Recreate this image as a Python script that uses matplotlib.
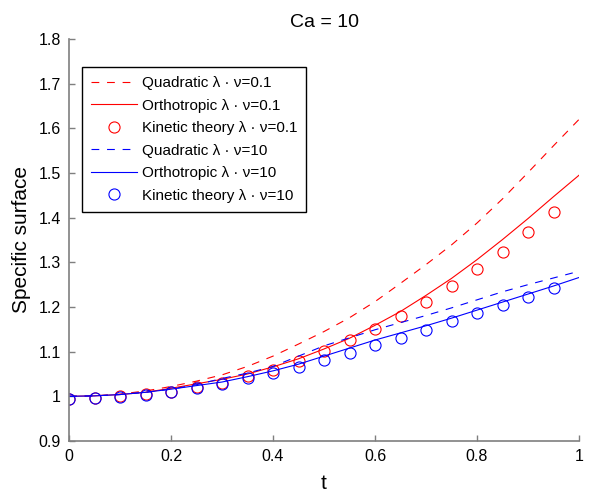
import matplotlib
matplotlib.use('Agg')
import matplotlib.pyplot as plt

plt.rcParams['font.family'] = ['Liberation Sans', 'DejaVu Sans']

# time samples for the model curves
t_line = [0.0, 0.05, 0.1, 0.15, 0.2, 0.25, 0.3, 0.35, 0.4, 0.45, 0.5,
          0.55, 0.6, 0.65, 0.7, 0.75, 0.8, 0.85, 0.9, 0.95, 1.0]

quad_01 = [1.000, 1.001, 1.005, 1.012, 1.022, 1.034, 1.048, 1.067, 1.090, 1.117, 1.145,
           1.176, 1.212, 1.253, 1.295, 1.339, 1.388, 1.442, 1.501, 1.561, 1.620]
ortho_01 = [1.000, 1.001, 1.004, 1.009, 1.018, 1.028, 1.038, 1.050, 1.066, 1.084, 1.106,
            1.130, 1.159, 1.190, 1.226, 1.264, 1.306, 1.351, 1.398, 1.447, 1.495]
quad_10 = [1.000, 1.001, 1.004, 1.009, 1.016, 1.026, 1.040, 1.052, 1.067, 1.090, 1.113,
           1.131, 1.149, 1.165, 1.181, 1.198, 1.216, 1.234, 1.250, 1.265, 1.280]
ortho_10 = [1.000, 1.001, 1.004, 1.009, 1.016, 1.024, 1.032, 1.044, 1.057, 1.072, 1.090,
            1.108, 1.126, 1.142, 1.158, 1.175, 1.193, 1.211, 1.229, 1.247, 1.266]

# kinetic theory points
t_pts = [0.0, 0.05, 0.1, 0.15, 0.2, 0.25, 0.3, 0.35, 0.4, 0.45,
         0.5, 0.55, 0.6, 0.65, 0.7, 0.75, 0.8, 0.85, 0.9, 0.95]
kin_01 = [0.995, 0.997, 1.000, 1.005, 1.010, 1.020, 1.030, 1.045, 1.060, 1.080,
          1.102, 1.125, 1.151, 1.180, 1.212, 1.247, 1.284, 1.324, 1.367, 1.413]
kin_10 = [0.995, 0.996, 0.999, 1.003, 1.010, 1.018, 1.028, 1.040, 1.052, 1.065,
          1.081, 1.097, 1.114, 1.131, 1.149, 1.168, 1.187, 1.205, 1.223, 1.242]

fig = plt.figure(figsize=(5.93, 4.92), dpi=100)
ax = fig.add_axes([0.1164, 0.1037, 0.86, 0.817])

lw = 0.8
dash = (7, 7)
ax.plot(t_line, quad_01, color='red', lw=lw, dashes=dash, label='Quadratic λ · ν=0.1')
ax.plot(t_line, ortho_01, color='red', lw=lw, label='Orthotropic λ · ν=0.1')
ax.plot(t_pts, kin_01, 'o', color='red', mfc='none', ms=8, mew=0.8,
        label='Kinetic theory λ · ν=0.1')
ax.plot(t_line, quad_10, color='blue', lw=lw, dashes=dash, label='Quadratic λ · ν=10')
ax.plot(t_line, ortho_10, color='blue', lw=lw, label='Orthotropic λ · ν=10')
ax.plot(t_pts, kin_10, 'o', color='blue', mfc='none', ms=8, mew=0.8,
        label='Kinetic theory λ · ν=10')

ax.set_xlim(0, 1)
ax.set_ylim(0.9, 1.8)
ax.set_xticks([0, 0.2, 0.4, 0.6, 0.8, 1])
ax.set_xticklabels(['0', '0.2', '0.4', '0.6', '0.8', '1'])
ax.set_yticks([0.9, 1, 1.1, 1.2, 1.3, 1.4, 1.5, 1.6, 1.7, 1.8])
ax.set_yticklabels(['0.9', '1', '1.1', '1.2', '1.3', '1.4', '1.5', '1.6', '1.7', '1.8'])

for s in ['top', 'right']:
    ax.spines[s].set_visible(False)
for s in ['left', 'bottom']:
    ax.spines[s].set_color('#7f7f7f')
    ax.spines[s].set_linewidth(1.2)
ax.tick_params(direction='in', length=4, width=1, color='#7f7f7f',
               labelsize=11.5, labelcolor='black', pad=6)

ax.set_xlabel('t', fontsize=15, labelpad=7)
ax.set_ylabel('Specific surface', fontsize=15, labelpad=5)
ax.set_title('Ca = 10', fontsize=14, pad=9)

leg = ax.legend(loc='upper left', bbox_to_anchor=(0.0255, 0.93), fontsize=11,
                frameon=True, fancybox=False, edgecolor='black', framealpha=1,
                handlelength=3.0, labelspacing=0.56, borderpad=0.58,
                handletextpad=0.33, borderaxespad=0)
leg.get_frame().set_linewidth(1.0)

fig.savefig('out.png', dpi=100)
